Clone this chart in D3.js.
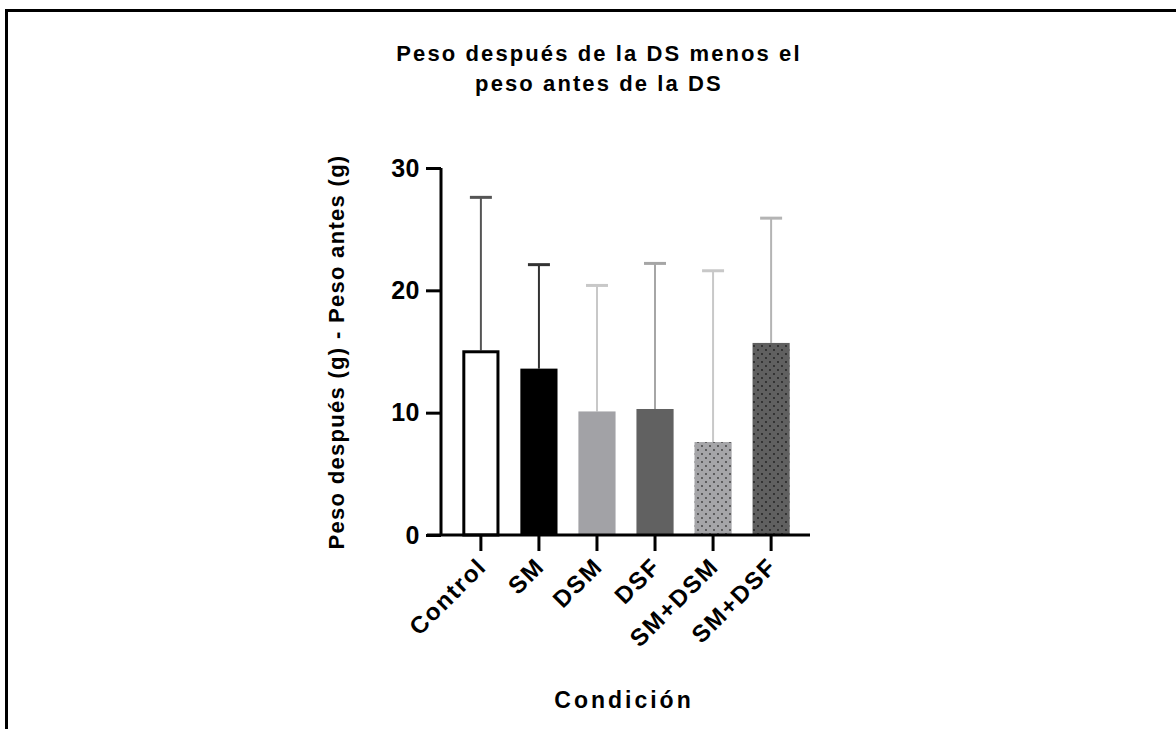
<!DOCTYPE html>
<html>
<head>
<meta charset="utf-8">
<script src="https://cdn.jsdelivr.net/npm/d3@7"></script>
<style>
  html, body { margin: 0; padding: 0; background: #fff; }
  svg text { font-family: "Liberation Sans", Arial, sans-serif; font-weight: bold; fill: #000; }
</style>
</head>
<body>
<svg id="chart" width="1176" height="729"></svg>
<script>
// data
const groups = ['Control', 'SM', 'DSM', 'DSF', 'SM+DSM', 'SM+DSF'];
const means = [15.1, 13.6, 10.1, 10.3, 7.6, 15.7];
const upperErr = [27.6, 22.1, 20.4, 22.2, 21.6, 25.9];
const yTicks = [0, 10, 20, 30];

const barFill = ['#ffffff', '#000000', '#a2a2a6', '#616161', 'url(#dotsLight)', 'url(#dotsDark)'];
const errColor = ['#555555', '#333333', '#c8c8c8', '#a6a6a6', '#c8c8c8', '#b4b4b4'];

const svg = d3.select('#chart');

// dotted fills for the two combination groups
const defs = svg.append('defs');
function dotPattern(id, bg, dot) {
  const p = defs.append('pattern')
    .attr('id', id)
    .attr('patternUnits', 'userSpaceOnUse')
    .attr('width', 8).attr('height', 8);
  p.append('rect').attr('width', 8).attr('height', 8).attr('fill', bg);
  p.append('circle').attr('cx', 2).attr('cy', 2).attr('r', 0.9).attr('fill', dot);
  p.append('circle').attr('cx', 6).attr('cy', 6).attr('r', 0.9).attr('fill', dot);
}
dotPattern('dotsLight', '#a5a5a8', '#3a3a3a');
dotPattern('dotsDark', '#606060', '#1e1e1e');

// frame (only left and top visible)
svg.append('rect')
  .attr('x', 6.5).attr('y', 10.5)
  .attr('width', 1300).attr('height', 900)
  .attr('fill', 'none').attr('stroke', '#000').attr('stroke-width', 3);

const x = d3.scaleBand()
  .domain(groups)
  .range([442, 810])
  .paddingInner(0.36)
  .paddingOuter(0.35);

const y = d3.scaleLinear()
  .domain([0, 30])
  .range([535, 168]);

// error bars (up only)
const err = svg.append('g');
groups.forEach((g, i) => {
  const cx = x(g) + x.bandwidth() / 2;
  err.append('line')
    .attr('x1', cx).attr('x2', cx)
    .attr('y1', y(means[i])).attr('y2', y(upperErr[i]))
    .attr('stroke', errColor[i]).attr('stroke-width', 2);
  err.append('line')
    .attr('x1', cx - 11).attr('x2', cx + 11)
    .attr('y1', y(upperErr[i])).attr('y2', y(upperErr[i]))
    .attr('stroke', errColor[i]).attr('stroke-width', 3);
});

// bars
svg.append('g').selectAll('rect')
  .data(groups)
  .join('rect')
  .attr('x', (d, i) => i === 0 ? x(d) + 1.5 : x(d))
  .attr('width', (d, i) => i === 0 ? x.bandwidth() - 3 : x.bandwidth())
  .attr('y', (d, i) => i === 0 ? y(means[i]) + 1.5 : y(means[i]))
  .attr('height', (d, i) => i === 0 ? y(0) - y(means[i]) - 1.5 : y(0) - y(means[i]))
  .attr('fill', (d, i) => barFill[i])
  .attr('stroke', (d, i) => i === 0 ? '#000' : 'none')
  .attr('stroke-width', 3);

// y axis
const yAxis = svg.append('g')
  .attr('transform', 'translate(441,0)')
  .call(d3.axisLeft(y).tickValues(yTicks).tickSize(15).tickPadding(6).tickFormat(d3.format('d')));
yAxis.select('.domain').attr('stroke-width', 3).attr('d', `M0,${y(30)}V${y(0)}`);
yAxis.selectAll('.tick line').attr('stroke-width', 3);
yAxis.selectAll('.tick text').style('font-size', '25px').style('letter-spacing', '0.5px');

// x axis
const xAxis = svg.append('g')
  .attr('transform', `translate(0,${y(0)})`)
  .call(d3.axisBottom(x).tickSize(16).tickSizeOuter(0));
xAxis.select('.domain').attr('stroke-width', 3).attr('d', 'M427,0H810');
xAxis.selectAll('.tick line').attr('stroke-width', 3);
xAxis.selectAll('.tick text')
  .style('font-size', '24px')
  .style('letter-spacing', '1.7px')
  .attr('text-anchor', 'end')
  .attr('y', 0)
  .attr('dy', 0)
  .attr('transform', 'translate(7,33) rotate(-45)');

// title
const title = svg.append('text')
  .attr('x', 599).attr('y', 61)
  .attr('text-anchor', 'middle')
  .style('font-size', '22px')
  .style('letter-spacing', '2.1px');
title.append('tspan').attr('x', 599).text('Peso después de la DS menos el');
title.append('tspan').attr('x', 599).attr('dy', 30).text('peso antes de la DS');

// axis titles
svg.append('text')
  .attr('transform', 'translate(344,352) rotate(-90)')
  .attr('text-anchor', 'middle')
  .style('font-size', '22px')
  .style('letter-spacing', '1.3px')
  .text('Peso después (g) - Peso antes (g)');

svg.append('text')
  .attr('x', 624).attr('y', 708)
  .attr('text-anchor', 'middle')
  .style('font-size', '23px')
  .style('letter-spacing', '3px')
  .text('Condición');
</script>
</body>
</html>
